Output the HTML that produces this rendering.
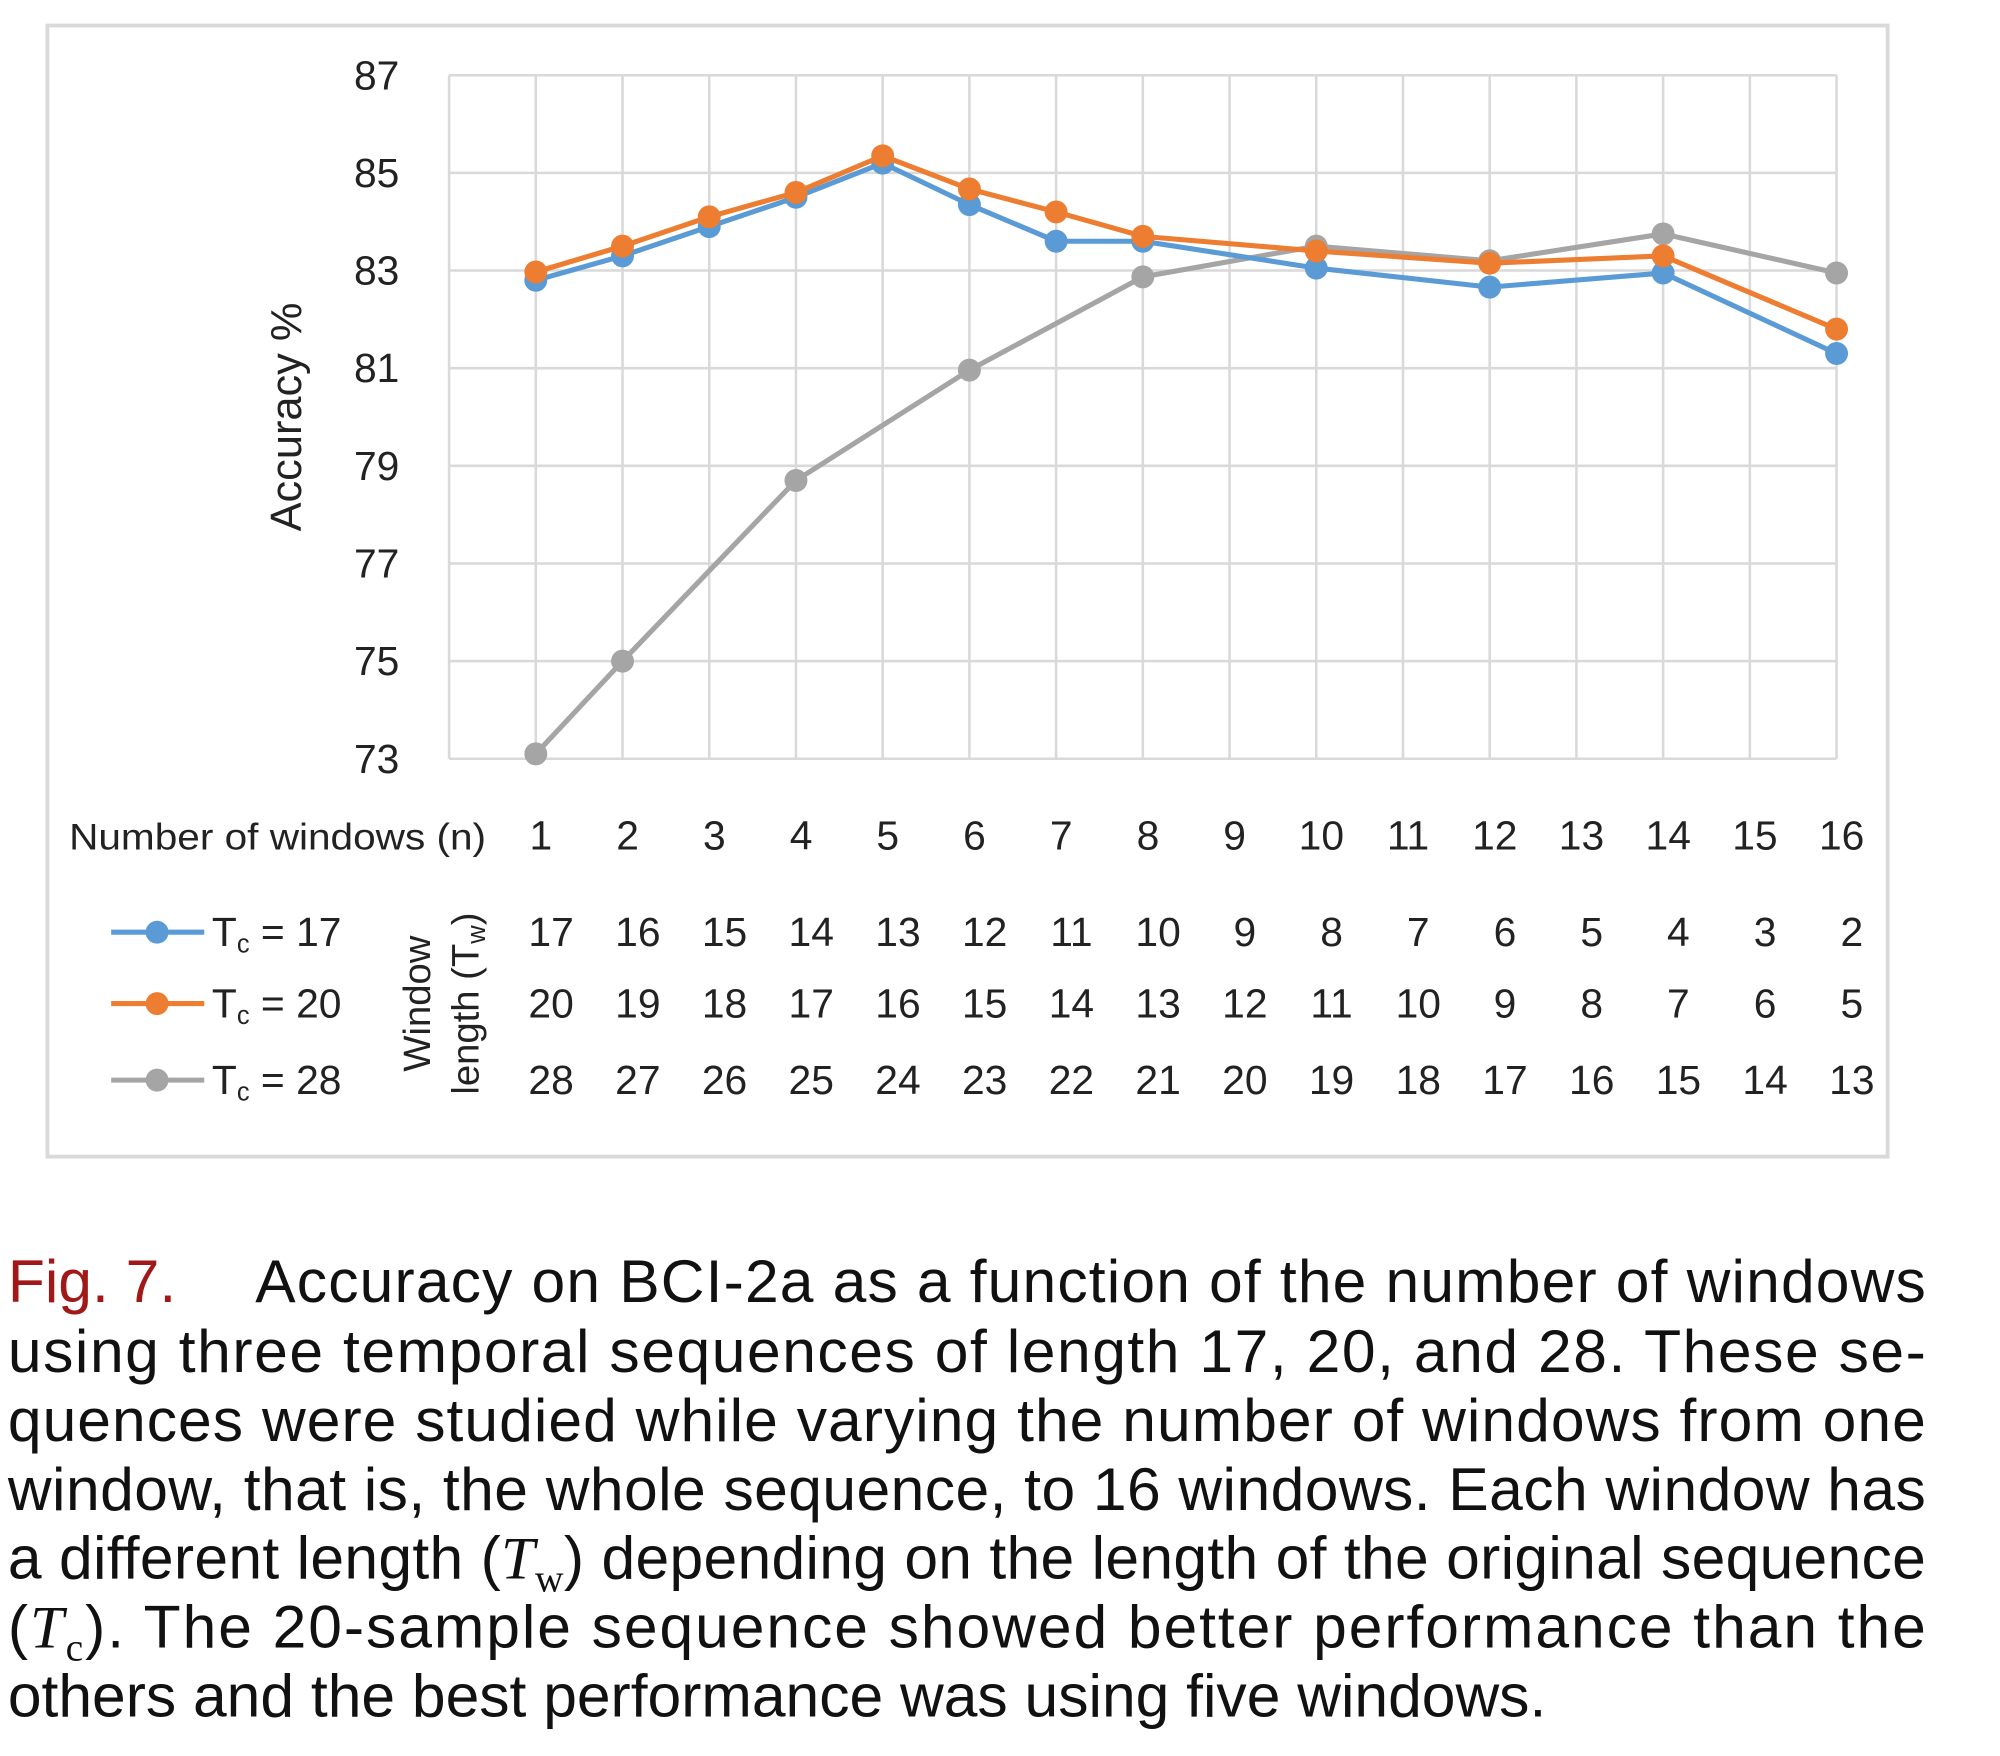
<!DOCTYPE html>
<html><head><meta charset="utf-8"><style>
html,body{margin:0;padding:0;background:#fff;}
svg{display:block;font-family:"Liberation Sans",sans-serif;}
</style></head><body>
<svg id="fig" width="2000" height="1756" viewBox="0 0 1568 1377" xmlns="http://www.w3.org/2000/svg">
<rect x="37" y="20" width="1443" height="887" fill="#fff" stroke="#d9d9d9" stroke-width="3"/>
<g id="grid"></g>
<g id="yticks" font-size="32" fill="#222" text-anchor="end"></g>
<text transform="translate(236,327) rotate(-90)" text-anchor="middle" font-size="34" fill="#222">Accuracy %</text>
<g id="series"></g>
<text x="54" y="666" font-size="29" fill="#222" textLength="327" lengthAdjust="spacingAndGlyphs">Number of windows (n)</text>
<g id="xticks" font-size="32" fill="#222" text-anchor="middle"></g>
<g id="wtable" font-size="32" fill="#222" text-anchor="middle"></g>
<g font-size="30" fill="#222" text-anchor="middle">
<text transform="translate(337,787) rotate(-90)">Window</text>
<text transform="translate(375,787) rotate(-90)">length (T<tspan font-size="20" dy="5">w</tspan><tspan dy="-5">)</tspan></text>
</g>
<g id="legend" font-size="32" fill="#222"></g>
<g font-size="47.5" fill="#111">
<text x="6" y="1021" fill="#a01818">Fig. 7.</text>
<text x="200" y="1021" textLength="1310" lengthAdjust="spacing">Accuracy on BCI-2a as a function of the number of windows</text>
<text x="6" y="1076" textLength="1504" lengthAdjust="spacing">using three temporal sequences of length 17, 20, and 28. These se-</text>
<text x="6" y="1130" textLength="1504" lengthAdjust="spacing">quences were studied while varying the number of windows from one</text>
<text x="6" y="1184" textLength="1504" lengthAdjust="spacing">window, that is, the whole sequence, to 16 windows. Each window has</text>
<text x="6" y="1238" textLength="1504" lengthAdjust="spacing">a different length (<tspan font-family="Liberation Serif" font-style="italic">T</tspan><tspan font-family="Liberation Serif" font-size="31" dy="10">w</tspan><tspan dy="-10">) depending on the length of the original sequence</tspan></text>
<text x="6" y="1292" textLength="1504" lengthAdjust="spacing">(<tspan font-family="Liberation Serif" font-style="italic">T</tspan><tspan font-family="Liberation Serif" font-size="31" dy="10">c</tspan><tspan dy="-10">). The 20-sample sequence showed better performance than the</tspan></text>
<text x="6" y="1346">others and the best performance was using five windows.</text>
</g>
</svg>
<script>
const windows = [1,2,3,4,5,6,7,8,9,10,11,12,13,14,15,16];
const yTicks = [73,75,77,79,81,83,85,87];
const tc17 = [82.8,83.3,83.9,84.5,85.2,84.35,83.6,83.6,null,83.05,null,82.66,null,82.95,null,81.3];
const tc20 = [82.97,83.5,84.1,84.6,85.35,84.67,84.2,83.7,null,83.4,null,83.15,null,83.3,null,81.8];
const tc28 = [73.1,75.0,null,78.7,null,80.96,null,82.87,null,83.5,null,83.2,null,83.75,null,82.95];
const len17 = [17,16,15,14,13,12,11,10,9,8,7,6,5,4,3,2];
const len20 = [20,19,18,17,16,15,14,13,12,11,10,9,8,7,6,5];
const len28 = [28,27,26,25,24,23,22,21,20,19,18,17,16,15,14,13];
const seriesNames = ["T_c = 17","T_c = 20","T_c = 28"];

const NS="http://www.w3.org/2000/svg";
const X0=352, X1=1440, Y0=595, Y1=59, YMIN=73, YMAX=87;
const xs = n => X0 + (X1-X0)*n/16;
const ys = v => Y0 - (v-YMIN)/(YMAX-YMIN)*(Y0-Y1);
function mk(tag, attrs, parent){const e=document.createElementNS(NS,tag);for(const k in attrs)e.setAttribute(k,attrs[k]);parent.appendChild(e);return e;}

const grid=document.getElementById('grid');
yTicks.forEach(t=>{
  const l=mk('line',{x1:X0,x2:X1,y1:ys(t),y2:ys(t),stroke:'#d9d9d9','stroke-width':2},grid);
  
  
  const tx=mk('text',{x:313,y:ys(t)+11},document.getElementById('yticks'));
  tx.textContent=t;
  
  
});
for(let i=0;i<=16;i++){
  const l=mk('line',{x1:xs(i),x2:xs(i),y1:Y1,y2:Y0,stroke:'#d9d9d9','stroke-width':2},grid);
  
  
}
const xt=document.getElementById('xticks');
windows.forEach((n,i)=>{
  const t=mk('text',{x:xs(n)+4,y:666},xt);
  t.textContent=n;
  
  
});
const wt=document.getElementById('wtable');
[[len17,742],[len20,798],[len28,858]].forEach(([arr,y])=>{
  arr.forEach((v,i)=>{
    const t=mk('text',{x:xs(windows[i])+12,y:y},wt);
    t.textContent=v;
    
    
  });
});
const colors=['#5b9bd5','#ed7d31','#a5a5a5'];
const sg=document.getElementById('series');
[tc28,tc17,tc20].forEach((data,k0)=>{
  const k=[2,0,1][k0];
  const pts=[];
  data.forEach((v,i)=>{if(v!==null)pts.push([xs(windows[i]),ys(v)]);});
  const p=mk('polyline',{points:pts.map(p=>p.join(',')).join(' '),fill:'none',stroke:colors[k],'stroke-width':4,'stroke-linejoin':'round'},sg);
  
  
  pts.forEach(q=>{
    const c=mk('circle',{cx:q[0],cy:q[1],r:9,fill:colors[k]},sg);
    
    
  });
});
const lg=document.getElementById('legend');
[731,787,847].forEach((y,k)=>{
  const l=mk('line',{x1:87,x2:160,y1:y,y2:y,stroke:colors[k],'stroke-width':4},lg);
  
  
  const c=mk('circle',{cx:123,cy:y,r:9,fill:colors[k]},lg);
  
  
  const parts=seriesNames[k].split('_');
  const t=mk('text',{x:166,y:y+11},lg);
  
  
  t.appendChild(document.createTextNode(parts[0]));
  const s=mk('tspan',{'font-size':20,dy:5},t);s.textContent=parts[1].split(' ')[0];
  const r=mk('tspan',{dy:-5},t);r.textContent=parts[1].slice(1);
});
</script>
</body></html>
